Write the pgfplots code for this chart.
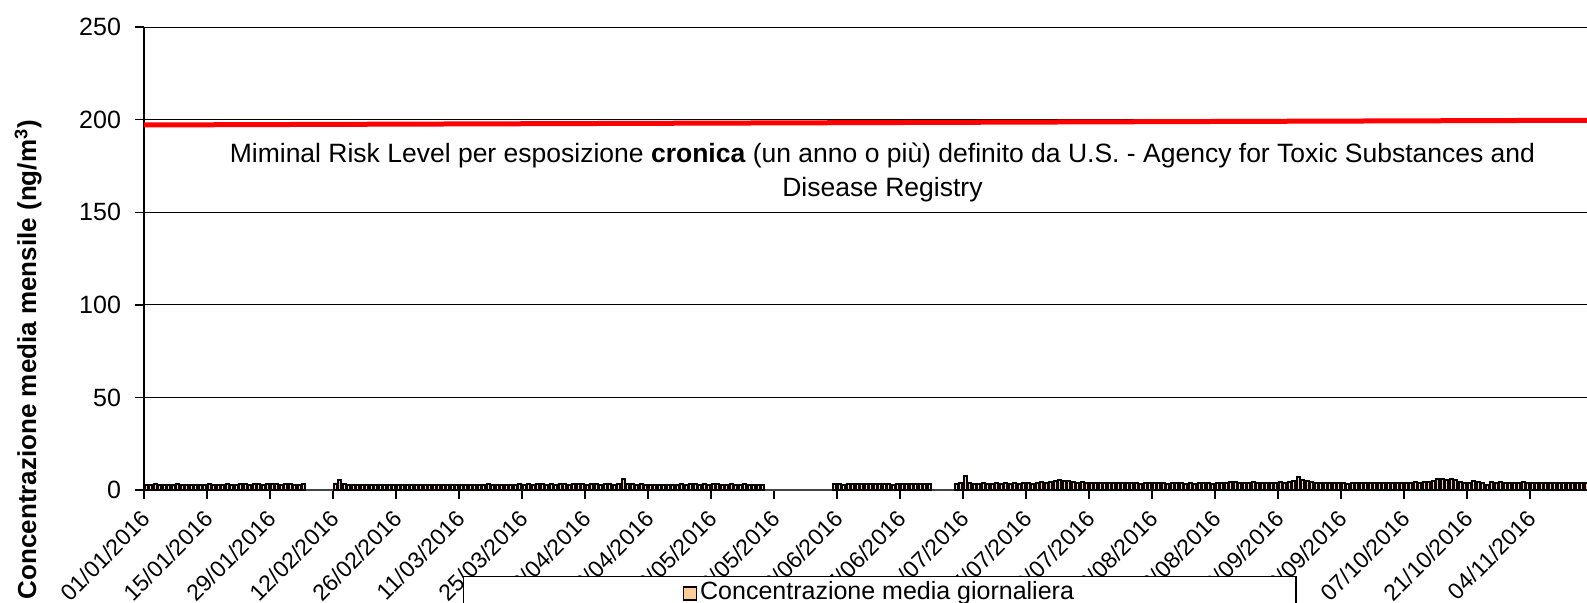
\documentclass[border=0pt]{standalone}
\usepackage{pgfplots}
\pgfplotsset{compat=1.18}
\usepackage{fontspec}
\setmainfont{Liberation Sans}
\definecolor{peach}{HTML}{FFCC99}
\begin{document}
\begin{tikzpicture}
\useasboundingbox (0,0) rectangle (793.5pt,301pt);
\begin{axis}[
  at={(72pt,56pt)}, anchor=south west,
  scale only axis, width=823.5pt, height=231.5pt,
  xmin=0, xmax=366, ymin=0, ymax=250,
  axis x line*=bottom, axis y line*=left,
  axis line style={-},
  x axis line style={gray!55!black, line width=0.9pt},
  y axis line style={black, line width=1pt},
  tick align=outside, major tick length=4.5pt,
  xtick style={black, line width=0.7pt},
  ytick style={black, line width=0.7pt},
  /pgf/number format/assume math mode=true,
  ytick={0,50,100,150,200},
  extra y ticks={250},
  extra y tick style={grid style={gray, line width=1pt}},
  ymajorgrids, major grid style={black, line width=0.5pt},
  yticklabel style={font=\fontsize{12.5}{15}\selectfont, xshift=-3.5pt},
  xtick={0,14,...,308},
  xticklabels={01/01/2016,15/01/2016,29/01/2016,12/02/2016,26/02/2016,11/03/2016,25/03/2016,08/04/2016,22/04/2016,06/05/2016,20/05/2016,03/06/2016,17/06/2016,01/07/2016,15/07/2016,29/07/2016,12/08/2016,26/08/2016,09/09/2016,23/09/2016,07/10/2016,21/10/2016,04/11/2016},
  xticklabel style={font=\fontsize{11.5}{14}\selectfont, xshift=3.5pt, yshift=-5.5pt, rotate=45, anchor=east},
  legend style={at={(axis description cs:0.19368,-0.18575)}, anchor=north west,
    draw=black, line width=0.6pt, inner xsep=109.5pt, inner ysep=0pt,
    nodes={inner ysep=2.5pt, inner xsep=1.5pt},
    font=\fontsize{12.5}{15}\selectfont},
]
\addplot[ybar, bar width=0.7, fill=peach, draw=black, line width=1pt,
  legend image code/.code={\draw[black, fill=peach, line width=0.8pt] (0pt,1.45pt) rectangle (6.5pt,7.95pt);}]
coordinates {
(0.5,2.8)(1.5,2.6)(2.5,3.0)(3.5,2.7)(4.5,2.9)(5.5,2.5)(6.5,2.8)(7.5,3.1)(8.5,2.7)(9.5,2.6)
(10.5,2.9)(11.5,2.8)(12.5,2.5)(13.5,2.7)(14.5,3.0)(15.5,2.8)(16.5,2.6)(17.5,2.9)(18.5,3.1)(19.5,2.8)
(20.5,2.7)(21.5,3.0)(22.5,3.2)(23.5,2.9)(24.5,3.3)(25.5,3.1)(26.5,2.8)(27.5,3.2)(28.5,3.4)(29.5,3.0)
(30.5,2.9)(31.5,3.3)(32.5,3.1)(33.5,2.8)(34.5,2.7)(35.5,3.0)
(42.5,3.1)(43.5,5.4)(44.5,3.2)(45.5,2.9)(46.5,2.7)(47.5,2.8)(48.5,2.6)(49.5,2.9)(50.5,2.7)(51.5,2.5)
(52.5,2.8)(53.5,2.6)(54.5,2.7)(55.5,2.9)(56.5,2.6)(57.5,2.5)(58.5,2.8)(59.5,2.7)(60.5,2.6)(61.5,2.8)
(62.5,2.7)(63.5,2.9)(64.5,2.6)(65.5,2.5)(66.5,2.7)(67.5,2.8)(68.5,2.6)(69.5,2.9)(70.5,2.7)(71.5,2.8)
(72.5,2.6)(73.5,2.7)(74.5,2.9)(75.5,2.8)(76.5,3.0)(77.5,2.7)(78.5,2.6)(79.5,2.8)(80.5,2.9)(81.5,2.7)
(82.5,2.8)(83.5,3.0)(84.5,2.9)(85.5,3.2)(86.5,2.8)(87.5,3.1)(88.5,3.0)(89.5,2.8)(90.5,3.1)(91.5,2.9)
(92.5,3.0)(93.5,3.2)(94.5,2.9)(95.5,3.1)(96.5,3.3)(97.5,3.0)(98.5,2.8)(99.5,3.1)(100.5,3.2)(101.5,2.9)
(102.5,3.0)(103.5,3.1)(104.5,2.9)(105.5,3.4)(106.5,6.0)(107.5,3.5)(108.5,3.1)(109.5,2.8)(110.5,3.0)(111.5,2.9)
(112.5,2.7)(113.5,2.9)(114.5,2.8)(115.5,2.6)(116.5,2.8)(117.5,2.7)(118.5,2.9)(119.5,3.0)(120.5,2.8)(121.5,3.2)
(122.5,3.0)(123.5,2.9)(124.5,3.1)(125.5,2.8)(126.5,3.0)(127.5,3.2)(128.5,2.9)(129.5,2.7)(130.5,3.0)(131.5,2.8)
(132.5,2.9)(133.5,3.1)(134.5,2.8)(135.5,2.6)(136.5,2.9)(137.5,2.7)
(153.5,3.0)(154.5,3.2)(155.5,2.9)(156.5,3.1)(157.5,3.3)(158.5,3.0)(159.5,3.2)(160.5,3.4)(161.5,3.1)(162.5,3.0)
(163.5,3.2)(164.5,3.3)(165.5,3.1)(166.5,2.9)(167.5,3.2)(168.5,3.0)(169.5,3.3)(170.5,3.4)(171.5,3.1)(172.5,3.0)
(173.5,3.2)(174.5,3.3)
(180.5,3.4)(181.5,3.6)(182.5,7.6)(183.5,3.9)(184.5,3.5)(185.5,3.3)(186.5,3.6)(187.5,3.4)(188.5,3.5)(189.5,3.7)
(190.5,3.5)(191.5,3.6)(192.5,3.4)(193.5,3.7)(194.5,3.5)(195.5,3.8)(196.5,3.6)(197.5,3.4)(198.5,3.9)(199.5,4.1)
(200.5,3.8)(201.5,4.2)(202.5,4.6)(203.5,5.4)(204.5,5.0)(205.5,4.8)(206.5,4.1)(207.5,3.9)(208.5,4.3)(209.5,3.8)
(210.5,3.7)(211.5,3.9)(212.5,4.0)(213.5,3.8)(214.5,3.6)(215.5,3.9)(216.5,3.7)(217.5,3.8)(218.5,3.6)(219.5,3.9)
(220.5,3.7)(221.5,3.5)(222.5,3.8)(223.5,3.6)(224.5,3.7)(225.5,3.9)(226.5,3.6)(227.5,3.5)(228.5,3.7)(229.5,3.8)
(230.5,3.6)(231.5,3.4)(232.5,3.7)(233.5,3.5)(234.5,3.6)(235.5,3.8)(236.5,3.7)(237.5,3.5)(238.5,3.6)(239.5,3.9)
(240.5,3.8)(241.5,4.1)(242.5,4.4)(243.5,3.9)(244.5,4.0)(245.5,3.8)(246.5,4.2)(247.5,3.9)(248.5,3.7)(249.5,3.8)
(250.5,4.0)(251.5,3.9)(252.5,4.1)(253.5,3.8)(254.5,4.3)(255.5,5.0)(256.5,7.2)(257.5,5.6)(258.5,4.8)(259.5,4.2)
(260.5,3.9)(261.5,4.0)(262.5,3.7)(263.5,3.8)(264.5,3.6)(265.5,3.9)(266.5,3.7)(267.5,3.5)(268.5,3.8)(269.5,3.6)
(270.5,3.7)(271.5,3.9)(272.5,3.6)(273.5,3.8)(274.5,3.7)(275.5,3.9)(276.5,4.0)(277.5,3.8)(278.5,3.7)(279.5,3.9)
(280.5,4.0)(281.5,3.8)(282.5,4.1)(283.5,3.9)(284.5,4.2)(285.5,4.4)(286.5,4.6)(287.5,5.8)(288.5,6.0)(289.5,5.5)
(290.5,6.0)(291.5,5.2)(292.5,4.3)(293.5,4.0)(294.5,3.9)(295.5,4.6)(296.5,4.2)(297.5,3.8)(298.5,2.6)(299.5,4.1)
(300.5,3.9)(301.5,4.2)(302.5,3.8)(303.5,4.0)(304.5,3.7)(305.5,3.9)(306.5,4.1)(307.5,3.8)(308.5,3.6)(309.5,3.9)
(310.5,3.7)(311.5,3.8)(312.5,4.0)(313.5,3.9)(314.5,3.6)(315.5,3.8)(316.5,3.7)(317.5,3.9)(318.5,3.6)(319.5,3.8)
(320.5,3.7)(321.5,3.9)
};
\addlegendentry[text depth=12pt]{Concentrazione media giornaliera}
\addplot[red, line width=2.5pt, forget plot] coordinates {(0,197.1)(366,200.0)};
\node[font=\fontsize{13.25}{15}\selectfont, anchor=base] at (axis cs:164.1,176.6)
  {Miminal Risk Level per esposizione \textbf{cronica} (un anno o più) definito da U.S. - Agency for Toxic Substances and};
\node[font=\fontsize{13.25}{15}\selectfont, anchor=base] at (axis cs:164.1,158.7) {Disease Registry};
\end{axis}
\node[rotate=90, anchor=base east, font=\bfseries\fontsize{13}{15}\selectfont] at (18pt,244.5pt)
  {Concentrazione media mensile (ng/m\textsuperscript{3})};
\end{tikzpicture}
\end{document}
